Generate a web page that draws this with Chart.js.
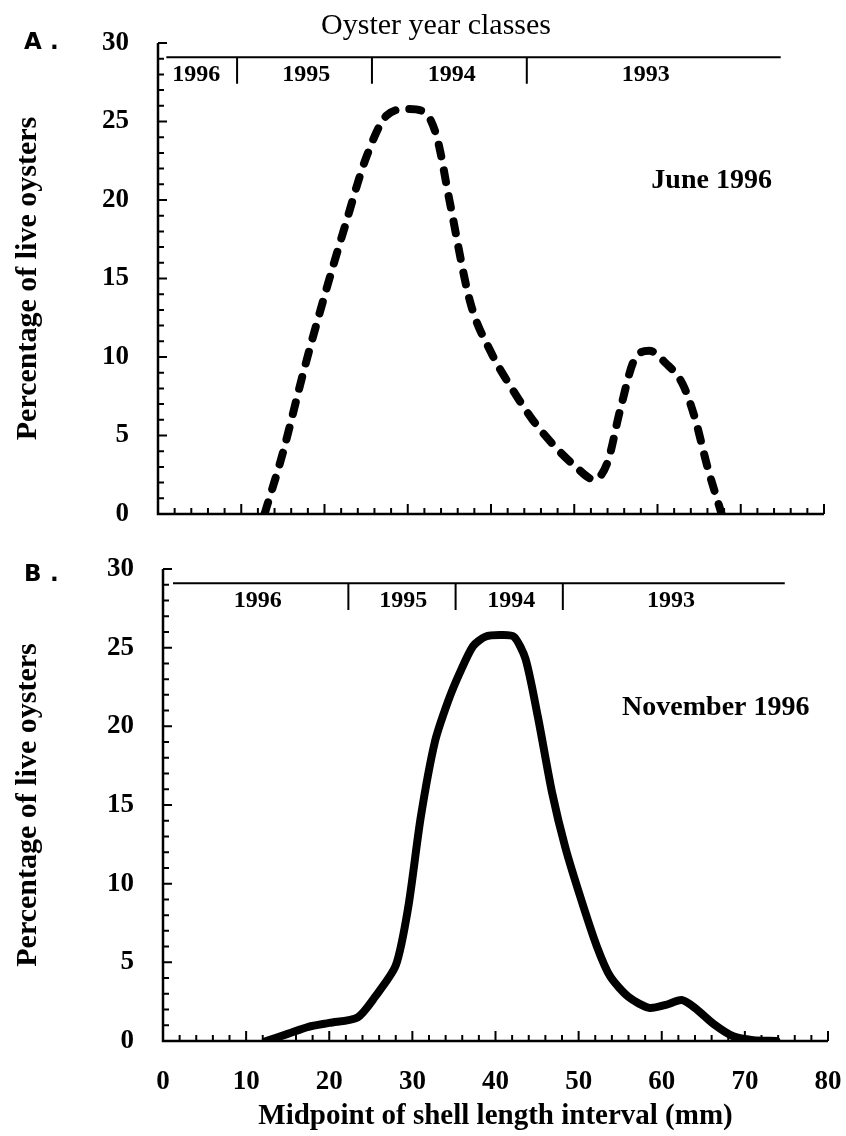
<!DOCTYPE html>
<html>
<head>
<meta charset="utf-8">
<script src="https://cdn.jsdelivr.net/npm/chart.js@4.4.1/dist/chart.umd.min.js"></script>
<style>
  html, body { margin: 0; padding: 0; background: #fff; }
  #wrap { position: relative; width: 846px; height: 1136px; }
  #chartA { position: absolute; left: 0; top: 0; }
  #chartB { position: absolute; left: 0; top: 540px; }
</style>
</head>
<body>
<div id="wrap">
  <canvas id="chartA" width="846" height="540"></canvas>
  <canvas id="chartB" width="846" height="596"></canvas>
</div>
<script>
// June 1996 (panel A) - shell length midpoint (mm) vs % of live oysters
const juneLength = [12.8, 15, 17.5, 20, 22.5, 25, 27.5, 30, 32, 33.5, 35, 37.5, 40, 42.5, 45, 47.5, 50, 52.4, 54, 55.5, 57.3, 59, 61, 63, 64.5, 66, 67.7];
const junePercent = [0, 3.9, 9.1, 13.9, 18.4, 22.7, 25.4, 25.8, 25.6, 24.0, 20.0, 13.5, 10.3, 8.0, 6.0, 4.4, 3.1, 2.2, 3.3, 6.6, 9.9, 10.4, 9.6, 8.3, 6.1, 3.0, 0];

// November 1996 (panel B)
const novLength = [12.4, 15, 17.5, 20, 23.4, 25.5, 28, 29.5, 31, 32.7, 34.3, 35.7, 37.3, 38.8, 40.5, 42.2, 43.6, 45.1, 46.8, 48.4, 50.3, 52.2, 53.8, 56, 58.5, 60.5, 62.4, 64, 66.2, 68.6, 71, 73.8];
const novPercent = [0, 0.45, 0.9, 1.15, 1.5, 2.8, 4.8, 8.5, 14.2, 19.0, 21.6, 23.4, 25.1, 25.7, 25.8, 25.7, 24.3, 20.6, 15.8, 12.3, 9.0, 6.0, 4.1, 2.8, 2.1, 2.3, 2.6, 2.1, 1.1, 0.3, 0.05, 0];

// Oyster year classes (boundaries in mm)
const yearNames = ['1996', '1995', '1994', '1993'];
const juneBreaks = [9.5, 25.7, 44.3];
const juneLabelAt = [4.6, 17.8, 35.3, 58.6];
const novBreaks = [22.3, 35.2, 48.1];
const novLabelAt = [11.4, 28.9, 41.9, 61.1];

const xTicks = [0, 10, 20, 30, 40, 50, 60, 70, 80];
const yTicks = [0, 5, 10, 15, 20, 25, 30];

const serif = "'Liberation Serif', 'Times New Roman', serif";

function toPoints(xs, ys) {
    return xs.map((v, i) => ({ x: v, y: ys[i] }));
}

// axes with inward ticks, year-class bar and panel notes
const decorPlugin = {
    id: 'decor',
    afterDraw(chart, args, opts) {
        const { ctx } = chart;
        const x = chart.scales.x;
        const y = chart.scales.y;
        ctx.save();
        ctx.strokeStyle = '#000';
        ctx.fillStyle = '#000';

        // axis lines
        ctx.lineWidth = 2.5;
        ctx.beginPath();
        ctx.moveTo(x.left, y.top);
        ctx.lineTo(x.left, y.bottom);
        ctx.lineTo(x.right, y.bottom);
        ctx.stroke();

        ctx.lineWidth = 2;
        ctx.beginPath();
        for (let v = 1; v <= 30; v++) {
            const py = y.getPixelForValue(v);
            const len = v % 5 === 0 ? 9 : 6;
            ctx.moveTo(x.left, py);
            ctx.lineTo(x.left + len, py);
        }
        for (let v = 2; v <= 80; v += 2) {
            const px = x.getPixelForValue(v);
            const len = v % 10 === 0 ? 10 : 6;
            ctx.moveTo(px, y.bottom);
            ctx.lineTo(px, y.bottom - len);
        }
        ctx.stroke();

        // year class bar
        const barY = y.getPixelForValue(29.1);
        const divBottom = y.getPixelForValue(27.4);
        ctx.lineWidth = 2;
        ctx.beginPath();
        ctx.moveTo(x.getPixelForValue(opts.barFrom), barY);
        ctx.lineTo(x.getPixelForValue(74.8), barY);
        opts.breaks.forEach(b => {
            const px = x.getPixelForValue(b);
            ctx.moveTo(px, barY);
            ctx.lineTo(px, divBottom);
        });
        ctx.stroke();

        ctx.font = 'bold 24px ' + serif;
        ctx.textAlign = 'center';
        ctx.textBaseline = 'middle';
        yearNames.forEach((name, i) => {
            ctx.fillText(name, x.getPixelForValue(opts.labelAt[i]), y.getPixelForValue(28.0));
        });

        // month label
        ctx.font = 'bold 28px ' + serif;
        ctx.fillText(opts.month, x.getPixelForValue(66.5), y.getPixelForValue(21.2));

        // panel letter
        const letterY = y.getPixelForValue(30) + opts.letterDy;
        ctx.font = "bold 23px 'DejaVu Sans', sans-serif";
        ctx.textAlign = 'left';
        ctx.fillText(opts.panel, 24, letterY);
        ctx.fillText('.', 50, letterY);

        if (opts.heading) {
            ctx.font = '30px ' + serif;
            ctx.textAlign = 'center';
            ctx.fillText(opts.heading, x.getPixelForValue(33.4), 26);
        }
        ctx.restore();
    }
};

function makeChart(canvasId, points, dashed, extra) {
    const ctx = document.getElementById(canvasId).getContext('2d');
    return new Chart(ctx, {
        type: 'line',
        data: {
            datasets: [{
                data: points,
                borderColor: '#000',
                borderWidth: 8,
                borderDash: dashed ? [12, 14] : [],
                borderCapStyle: 'round',
                borderJoinStyle: 'round',
                pointRadius: 0,
                tension: dashed ? 0.4 : 0.25,
                cubicInterpolationMode: dashed ? 'monotone' : 'default',
                fill: false
            }]
        },
        options: {
            responsive: false,
            animation: false,
            layout: { padding: extra.padding },
            plugins: {
                legend: { display: false },
                tooltip: { enabled: false },
                decor: extra.decor
            },
            scales: {
                x: {
                    type: 'linear',
                    min: 0,
                    max: 80,
                    afterBuildTicks: scale => { scale.ticks = xTicks.map(v => ({ value: v })); },
                    grid: { display: false, drawTicks: false },
                    border: { display: false },
                    ticks: {
                        display: extra.showX,
                        padding: 25,
                        color: '#000',
                        font: { family: serif, size: 27, weight: 'bold' }
                    },
                    title: {
                        display: extra.showX,
                        text: 'Midpoint of shell length interval (mm)',
                        color: '#000',
                        font: { family: serif, size: 29, weight: 'bold' },
                        padding: { top: 0, bottom: 2 }
                    },
                    afterFit: scale => {
                        scale.height = extra.xHeight;
                        scale.paddingLeft = 0;
                        scale.paddingRight = 0;
                    }
                },
                y: {
                    min: 0,
                    max: 30,
                    afterBuildTicks: scale => { scale.ticks = yTicks.map(v => ({ value: v })); },
                    grid: { display: false, drawTicks: false },
                    border: { display: false },
                    ticks: {
                        padding: 29,
                        color: '#000',
                        font: { family: serif, size: 27, weight: 'bold' }
                    },
                    title: {
                        display: true,
                        text: 'Percentage of live oysters',
                        color: '#000',
                        font: { family: serif, size: 30, weight: 'bold' },
                        padding: { top: 10, bottom: 0 }
                    },
                    afterFit: scale => {
                        scale.width = extra.yWidth;
                        scale.paddingTop = 0;
                        scale.paddingBottom = 0;
                    }
                }
            }
        },
        plugins: [decorPlugin]
    });
}

makeChart('chartA', toPoints(juneLength, junePercent), true, {
    padding: { top: 43, right: 22, left: 0, bottom: 0 },
    showX: false,
    xHeight: 26,
    yWidth: 158,
    decor: { panel: 'A', month: 'June 1996', breaks: juneBreaks, labelAt: juneLabelAt, barFrom: 1, heading: 'Oyster year classes', letterDy: 0 }
});

makeChart('chartB', toPoints(novLength, novPercent), false, {
    padding: { top: 29, right: 18, left: 0, bottom: 0 },
    showX: true,
    xHeight: 95,
    yWidth: 163,
    decor: { panel: 'B', month: 'November 1996', breaks: novBreaks, labelAt: novLabelAt, barFrom: 1.2, letterDy: 6 }
});
</script>
</body>
</html>
